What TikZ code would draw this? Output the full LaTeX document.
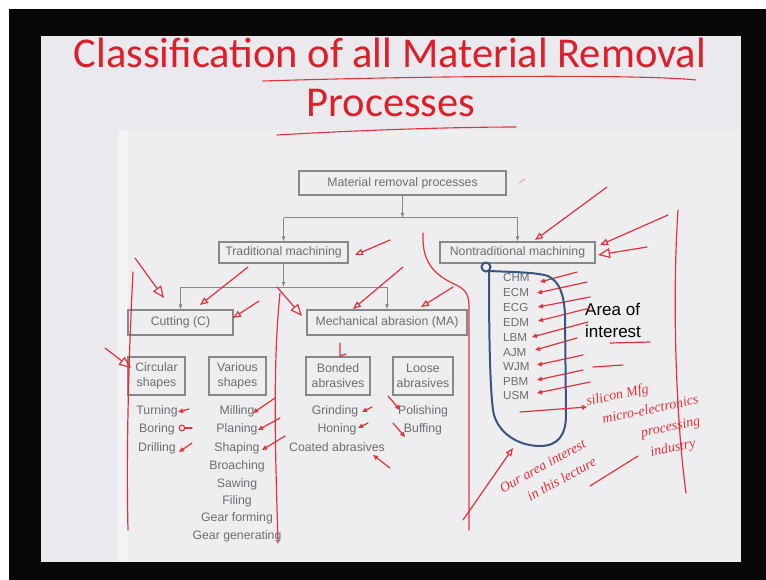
\documentclass[tikz,border=0pt]{standalone}
\usepackage{fontspec}
\setmainfont{Liberation Sans}
\newfontfamily\titlefont{Carlito}
\newfontfamily\handfont{Liberation Serif}
\usetikzlibrary{arrows.meta}

\definecolor{framebk}{RGB}{8,8,8}
\definecolor{slidebg}{RGB}{234,234,238}
\definecolor{pagebg}{RGB}{238,238,241}
\definecolor{pageedge}{RGB}{243,243,245}
\definecolor{inkgray}{RGB}{110,110,114}
\definecolor{boxline}{RGB}{135,135,140}
\definecolor{titlered}{RGB}{222,30,42}
\definecolor{penred}{RGB}{228,50,60}
\definecolor{penblue}{RGB}{58,84,128}

\tikzset{
  box/.style={draw=boxline, line width=1.1pt, text=inkgray, align=center,
    inner sep=0pt, font=\fontsize{12.3}{15}\selectfont},
  conn/.style={draw=boxline, line width=1pt},
  tip/.style={conn, -{Latex[length=5pt,width=4pt]}},
  item/.style={text=inkgray, inner sep=0pt, anchor=base,
    font=\fontsize{12.3}{14}\selectfont},
  abbr/.style={item, anchor=base west, font=\fontsize{11.6}{13}\selectfont},
  pen/.style={draw=penred, line width=1.2pt, line cap=round, line join=round},
  penarr/.style={pen, -{Triangle[open,length=5pt,width=4.5pt]}},
  penmid/.style={pen, -{Triangle[open,length=8pt,width=6.5pt]}},
  penbig/.style={pen, -{Triangle[open,length=12pt,width=10pt]}},
  hand/.style={text=penred, inner sep=0pt, align=left, anchor=north west,
    font=\handfont\itshape\fontsize{14}{21}\selectfont},
}

\begin{document}
\begin{tikzpicture}[x=1pt,y=-1pt]
\useasboundingbox (0,0) rectangle (766,580);

% frame, slide and scanned page
\fill[white] (0,0) rectangle (766,580);
\fill[framebk] (9,9) rectangle (766,580);
\fill[slidebg] (41,36) rectangle (741,562);
\fill[pagebg] (120,130) rectangle (741,562);
\fill[pageedge] (118,130) rectangle (128,562);

% title
\node[text=titlered, font=\titlefont\fontsize{42.5}{50}\selectfont, anchor=base, inner sep=0pt]
  (title1) at (390,68) {Classification of all Material Removal};
\node[text=titlered, font=\titlefont\fontsize{42.5}{50}\selectfont, anchor=base, inner sep=0pt]
  (title2) at (391,117) {Processes};
\draw[pen, line width=1.1pt] (263,81) .. controls (420,76) and (640,74) .. (696,80);
\draw[pen, line width=1.1pt] (277,135) .. controls (380,129) and (470,127) .. (516,127);

% classification tree
\node[box, minimum width=207pt, minimum height=24pt] (mrp) at (402.5,183) {Material removal processes};
\node[box, minimum width=129pt, minimum height=21pt] (trad) at (283.5,252.5) {Traditional machining};
\node[box, minimum width=155pt, minimum height=21pt] (nontrad) at (517.5,252.5) {Nontraditional machining};
\node[box, minimum width=105pt, minimum height=25pt] (cut) at (180.5,322.5) {Cutting (C)};
\node[box, minimum width=160pt, minimum height=25pt] (ma) at (387,322.5) {Mechanical abrasion (MA)};
\node[box, minimum width=57pt, minimum height=38pt] (circ) at (156.5,376) {Circular\\shapes};
\node[box, minimum width=57pt, minimum height=38pt] (vari) at (237.5,376) {Various\\shapes};
\node[box, minimum width=64pt, minimum height=38pt] (bond) at (338,376) {Bonded\\abrasives};
\node[box, minimum width=60pt, minimum height=38pt] (loose) at (423,376) {Loose\\abrasives};

\coordinate (j1) at (403,218);
\coordinate (j2) at (283.5,287);
\draw[tip] (mrp.south) -- (mrp.south |- j1);
\draw[conn] (trad.north |- j1) -- (nontrad.north |- j1);
\draw[tip] (trad.north |- j1) -- (trad.north);
\draw[tip] (nontrad.north |- j1) -- (nontrad.north);
\draw[tip] (trad.south) -- (j2);
\draw[conn] (cut.north |- j2) -- (ma.north |- j2);
\draw[tip] (cut.north |- j2) -- (cut.north);
\draw[tip] (ma.north |- j2) -- (ma.north);

% process lists
\node[item] (turn) at (157,414) {Turning};
\node[item] (bore) at (157,432) {Boring};
\node[item] (drill) at (157,451) {Drilling};
\node[item] (mill) at (237,414) {Milling};
\node[item] (plan) at (237,432) {Planing};
\node[item] (shap) at (237,451) {Shaping};
\node[item] (broa) at (237,469) {Broaching};
\node[item] (sawi) at (237,487) {Sawing};
\node[item] (fili) at (237,504) {Filing};
\node[item] (gfor) at (237,521) {Gear forming};
\node[item] (ggen) at (237,539) {Gear generating};
\node[item] (grin) at (335,414) {Grinding};
\node[item] (honi) at (337,432) {Honing};
\node[item] (coat) at (337,451) {Coated abrasives};
\node[item] (poli) at (423,414) {Polishing};
\node[item] (buff) at (423,432) {Buffing};

\node[abbr] (chm) at (503,282) {CHM};
\node[abbr] (ecm) at (503,297) {ECM};
\node[abbr] (ecg) at (503,311) {ECG};
\node[abbr] (edm) at (503,326) {EDM};
\node[abbr] (lbm) at (503,341) {LBM};
\node[abbr] (ajm) at (503,356) {AJM};
\node[abbr] (wjm) at (503,370) {WJM};
\node[abbr] (pbm) at (503,385) {PBM};
\node[abbr] (usm) at (503,399) {USM};

\node[anchor=base west, inner sep=0pt, align=left, font=\fontsize{17}{22}\selectfont]
  (area) at (585,337) {Area of\\interest};

% pen annotations: margin strokes
\draw[pen] (133,272) .. controls (129,350) and (126,450) .. (128,530);
\draw[pen] (280,293) .. controls (272,370) and (276,470) .. (278,543);
\draw[pen] (423,233) .. controls (422,258) and (430,272) .. (452,283)
           .. controls (468,290) and (469,295) .. (469,310) -- (469,530);
\draw[pen] (678,210) .. controls (672,300) and (676,420) .. (686,493);

% pen annotations: pointers on the tree
\draw[pen, draw=penred!45] (519,183) -- (525,179);
\draw[penmid] (390,240) -- (355,255);
\draw[penmid] (607,187) -- (535,240);
\draw[penmid] (668,215) -- (600,245);
\draw[penbig] (647,247) -- (598,255);
\draw[penbig] (135,258) -- (164,298);
\draw[penmid] (248,267) -- (200,305);
\draw[penmid] (259,301) -- (233,318);
\draw[penbig] (277,287) -- (302,316);
\draw[penmid] (403,267) -- (353,309);
\draw[penmid] (453,287) -- (421,307);
\draw[penbig] (105,348) -- (131,368);
\draw[pen] (340,343) -- (340,356) -- (346,354);

% pen annotations: pointers on the lists
\draw[penarr] (189,409) -- (178,412);
\draw[pen] (192,428) -- (185,428);
\draw[pen] (182,428) circle (2.8pt);
\draw[penarr] (192,443) -- (179,452);
\draw[penarr] (275,398) -- (253,413);
\draw[penarr] (280,418) -- (258,430);
\draw[penarr] (285,436) -- (262,450);
\draw[penarr] (372,407) -- (362,412);
\draw[penarr] (368,423) -- (358,428);
\draw[penarr] (390,468) -- (373,455);
\draw[penarr] (388,396) -- (400,410);
\draw[penarr] (393,423) -- (405,437);

\draw[penarr] (577,272) -- (540,282);
\draw[penarr] (587,282) -- (537,293);
\draw[penarr] (590,297) -- (538,307);
\draw[penarr] (590,308) -- (538,321);
\draw[penarr] (588,322) -- (532,337);
\draw[penarr] (577,338) -- (535,350);
\draw[penarr] (583,355) -- (537,365);
\draw[penarr] (583,370) -- (537,380);
\draw[penarr] (590,382) -- (537,393);
\draw[pen] (610,343) -- (650,342);
\draw[pen] (593,367) -- (623,365);

% blue loop round the nontraditional list
\draw[draw=penblue, line width=2pt, line cap=round]
  (486,267) circle (4.5pt)
  (489,271) .. controls (510,272) and (535,272) .. (548,276)
  .. controls (560,282) and (564,295) .. (565,315)
  -- (566,415)
  .. controls (566,435) and (558,446) .. (540,446)
  .. controls (520,446) and (500,435) .. (494,415)
  .. controls (489,395) and (489,300) .. (489,271);

% handwritten notes
\draw[penarr] (520,412) -- (587,407);
\node[hand, rotate=12] (note1) at (585,396)
  {silicon Mfg\\\hspace*{12pt}micro-electronics\\\hspace*{47pt}processing\\\hspace*{52pt}industry};
\node[hand, rotate=29] (note2) at (498,485)
  {Our area interest\\\hspace*{20pt}in this lecture};
\draw[pen] (590,486) -- (638,456);
\draw[penmid] (463,520) -- (513,448);

\end{tikzpicture}
\end{document}
